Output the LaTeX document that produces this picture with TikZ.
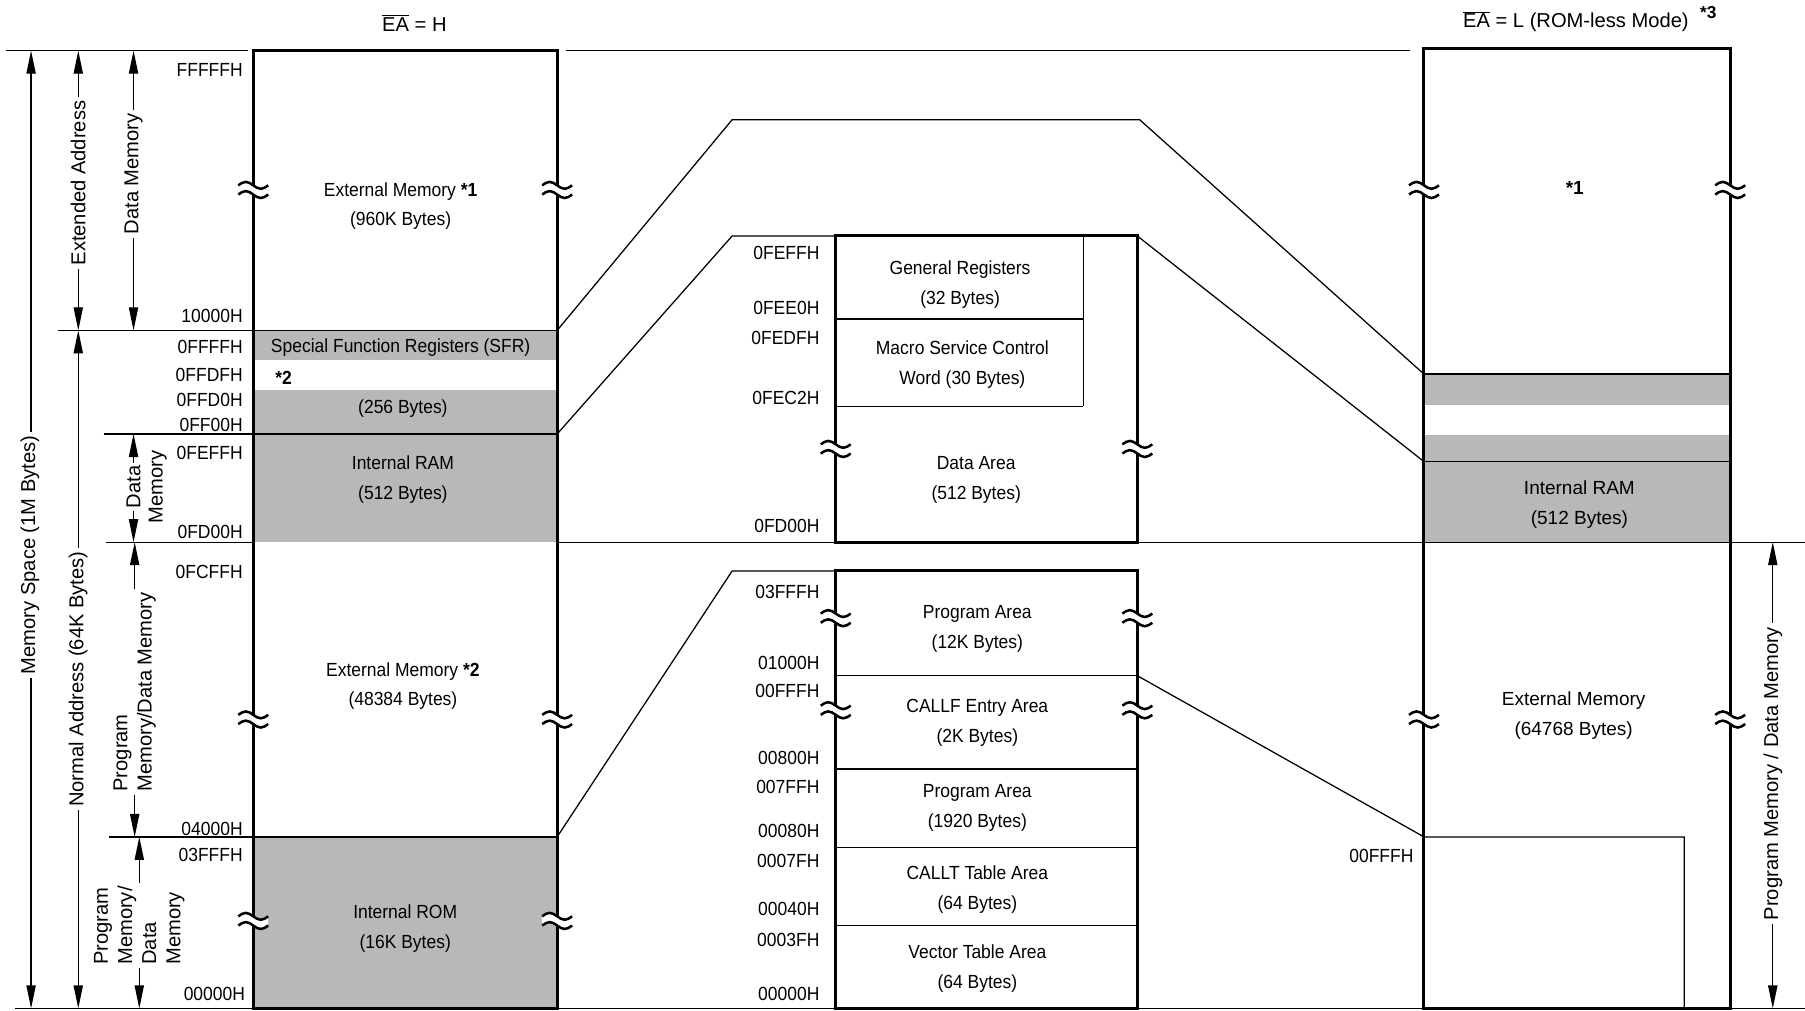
\documentclass[tikz,border=0pt]{standalone}
\usepackage{fontspec}
\setmainfont{Liberation Sans}
\newfontfamily\cfont{Liberation Sans}[FakeStretch=0.92]
\usetikzlibrary{arrows.meta}
\begin{document}
\begin{tikzpicture}[x=1pt,y=-1pt,
  thickline/.style={line width=2.6pt},
  thinline/.style={line width=1.1pt},
  shade/.style={fill=black!28},
  boxtxt/.style={font=\cfont\fontsize{16.5}{26}\selectfont, align=center, inner sep=0pt, yshift=-2pt},
  rtxt/.style={font=\fontsize{16.5}{26}\selectfont, align=center, inner sep=0pt, yshift=-2pt},
  addr/.style={font=\cfont\fontsize{16.5}{20}\selectfont, anchor=east, inner sep=0pt, yshift=-1.5pt},
  side/.style={font=\fontsize{17.5}{21}\selectfont, rotate=90, fill=white, inner sep=3pt, align=left},
  dimarrow/.style={line width=1.1pt, {Triangle[length=20pt,width=8pt]}-{Triangle[length=20pt,width=8pt]}},
  brk/.pic={
    \fill[white] (-13,-4) sin (-6.5,-7) cos (0,-4) sin (6.5,-1) cos (13,-4) -- (13,4) sin (6.5,7) cos (0,4) sin (-6.5,1) cos (-13,4) -- cycle;
    \draw[line width=2.2pt] (-13,-4) sin (-6.5,-7) cos (0,-4) sin (6.5,-1) cos (13,-4);
    \draw[line width=2.2pt] (-13,4) sin (-6.5,1) cos (0,4) sin (6.5,7) cos (13,4);
  }
]
\useasboundingbox (0,0) rectangle (1568,878);

% ---------- shading ----------
\fill[shade] (220,287) rectangle (484,313);
\fill[shade] (220,339) rectangle (484,471);
\fill[shade] (220,727) rectangle (484,876);
\fill[shade] (1237,325) rectangle (1503,352);
\fill[shade] (1237,378) rectangle (1503,471);

% ---------- coordinates ----------
\coordinate (L287) at (484,287);
\coordinate (L377) at (484,377);
\coordinate (L727) at (484,727);
\coordinate (T1) at (636,104);
\coordinate (T2) at (990,104);
\coordinate (R325) at (1237,325);
\coordinate (M1) at (636,205);
\coordinate (MTL) at (726,205);
\coordinate (MTR) at (988,205);
\coordinate (R401) at (1237,401);
\coordinate (B1) at (636,496);
\coordinate (MBTL) at (726,496);
\coordinate (MB587) at (988,587);
\coordinate (R727) at (1237,727);
\coordinate (RIN) at (1463,727);
\coordinate (RINB) at (1463,876);

% ---------- guide lines ----------
\draw[thinline] (5,44) -- (215,44);
\draw[thinline] (492,44) -- (1225,44);
\draw[thinline] (50,287) -- (484,287);
\draw[thinline] (90,377) -- (484,377);
\draw[thinline] (92,471) -- (220,471);
\draw[thinline] (484,471) -- (1568,471);
\draw[thinline] (95,727) -- (484,727);
\draw[thinline] (13,876) -- (1568,876);
\draw[thinline] (1237,325) -- (1503,325);
\draw[thinline] (1237,401) -- (1503,401);

% ---------- connectors ----------
\draw[thinline] (L287) -- (T1) -- (T2) -- (R325);
\draw[thinline] (L377) -- (M1) -- (MTL);
\draw[thinline] (MTR) -- (R401);
\draw[thinline] (L727) -- (B1) -- (MBTL);
\draw[thinline] (MB587) -- (R727) -- (RIN) -- (RINB);

% ---------- middle inner lines ----------
\draw[thinline] (726,277) -- (941,277);
\draw[thinline] (726,353) -- (941,353);
\draw[thinline] (941,205) -- (941,353);
\foreach \yy in {587,668,736,804} \draw[thinline] (726,\yy) -- (988,\yy);

% ---------- boxes ----------
\draw[thickline] (220,44) rectangle (484,876);
\draw[thickline] (726,205) rectangle (988,471);
\draw[thickline] (726,496) rectangle (988,876);
\draw[thickline] (1237,42) rectangle (1503,876);

% ---------- break marks ----------
\foreach \xx in {220,484} {
  \pic at (\xx,165) {brk};
  \pic at (\xx,625) {brk};
  \pic at (\xx,800) {brk};
}
\foreach \xx in {726,988} {
  \pic at (\xx,390) {brk};
  \pic at (\xx,537) {brk};
  \pic at (\xx,617) {brk};
}
\foreach \xx in {1237,1503} {
  \pic at (\xx,165) {brk};
  \pic at (\xx,625) {brk};
}

% ---------- titles ----------
\node[font=\fontsize{17.5}{21}\selectfont] (title1) at (360,20) {$\overline{\mbox{EA}}$ = H};
\node[font=\fontsize{17.5}{21}\selectfont] (title2) at (1369,19) {$\overline{\mbox{EA}}$ = L (ROM-less Mode)};
\node[font=\bfseries\fontsize{15}{18}\selectfont] (title3) at (1484,11) {*3};

% ---------- left box texts ----------
\node[boxtxt] (ext1) at (348,177) {External Memory \textbf{*1}\\(960K Bytes)};
\node[boxtxt] (sfr) at (348,300) {Special Function Registers (SFR)};
\node[boxtxt,anchor=west] (st2) at (239,326) {\textbf{*2}};
\node[boxtxt] (b256) at (350,353) {(256 Bytes)};
\node[boxtxt] (iram) at (350,415) {Internal RAM\\(512 Bytes)};
\node[boxtxt] (ext2) at (350,594) {External Memory \textbf{*2}\\(48384 Bytes)};
\node[boxtxt] (irom) at (352,805) {Internal ROM\\(16K Bytes)};

% ---------- left addresses ----------
\node[addr] (la1) at (211,59) {FFFFFH};
\node[addr] (la2) at (211,273) {10000H};
\node[addr] (la3) at (211,300) {0FFFFH};
\node[addr] (la4) at (211,324) {0FFDFH};
\node[addr] (la5) at (211,346) {0FFD0H};
\node[addr] (la6) at (211,368) {0FF00H};
\node[addr] (la7) at (211,392) {0FEFFH};
\node[addr] (la8) at (211,461) {0FD00H};
\node[addr] (la9) at (211,495) {0FCFFH};
\node[addr] (la10) at (211,719) {04000H};
\node[addr] (la11) at (211,741) {03FFFH};
\node[addr] (la12) at (213,862) {00000H};

% ---------- middle addresses ----------
\node[addr] (ma1) at (712,218) {0FEFFH};
\node[addr] (ma2) at (712,266) {0FEE0H};
\node[addr] (ma3) at (712,292) {0FEDFH};
\node[addr] (ma4) at (712,344) {0FEC2H};
\node[addr] (ma5) at (712,455) {0FD00H};
\node[addr] (ma6) at (712,513) {03FFFH};
\node[addr] (ma7) at (712,574) {01000H};
\node[addr] (ma8) at (712,599) {00FFFH};
\node[addr] (ma9) at (712,657) {00800H};
\node[addr] (ma10) at (712,682) {007FFH};
\node[addr] (ma11) at (712,720) {00080H};
\node[addr] (ma12) at (712,746) {0007FH};
\node[addr] (ma13) at (712,788) {00040H};
\node[addr] (ma14) at (712,815) {0003FH};
\node[addr] (ma15) at (712,862) {00000H};

% ---------- middle texts ----------
\node[boxtxt] (gr) at (834,245) {General Registers\\(32 Bytes)};
\node[boxtxt] (msc) at (836,315) {Macro Service Control\\Word (30 Bytes)};
\node[boxtxt] (da) at (848,415) {Data Area\\(512 Bytes)};
\node[boxtxt] (pa1) at (849,544) {Program Area\\(12K Bytes)};
\node[boxtxt] (cf) at (849,626) {CALLF Entry Area\\(2K Bytes)};
\node[boxtxt] (pa2) at (849,700) {Program Area\\(1920 Bytes)};
\node[boxtxt] (ct) at (849,771) {CALLT Table Area\\(64 Bytes)};
\node[boxtxt] (vt) at (849,839) {Vector Table Area\\(64 Bytes)};

% ---------- right box texts ----------
\node[rtxt,font=\bfseries\fontsize{16.5}{20}\selectfont] (rs1) at (1368,161) {*1};
\node[rtxt] (riram) at (1372,436) {Internal RAM\\(512 Bytes)};
\node[rtxt] (rext) at (1367,620) {External Memory\\(64768 Bytes)};
\node[addr] (ra1) at (1228,742) {00FFFH};

% ---------- dimension arrows ----------
\coordinate (d1a) at (27,44);   \coordinate (d1b) at (27,876);
\coordinate (d2a) at (68,44);   \coordinate (d2b) at (68,287);
\coordinate (d3a) at (68,287);  \coordinate (d3b) at (68,876);
\coordinate (d4a) at (116,44);  \coordinate (d4b) at (116,287);
\coordinate (d5a) at (116,377); \coordinate (d5b) at (116,471);
\coordinate (d6a) at (117,471); \coordinate (d6b) at (117,727);
\coordinate (d7a) at (121,727); \coordinate (d7b) at (121,876);
\coordinate (d8a) at (1540,471); \coordinate (d8b) at (1540,876);

\draw[dimarrow] (d1a) -- (d1b);
\draw[dimarrow] (d2a) -- (d2b);
\draw[dimarrow] (d3a) -- (d3b);
\draw[dimarrow] (d4a) -- (d4b);
\draw[dimarrow] (d5a) -- (d5b);
\draw[dimarrow] (d6a) -- (d6b);
\draw[dimarrow] (d7a) -- (d7b);
\draw[dimarrow] (d8a) -- (d8b);

\node[side] (s1) at (26,482) {Memory Space (1M Bytes)};
\node[side] (s2) at (68,159) {Extended Address};
\node[side] (s3) at (68,590) {Normal Address (64K Bytes)};
\node[side] (s4) at (116,151) {Data Memory};
\node[side,inner sep=2pt] (s5) at (116,423) {Data};
\node[side,fill=none,inner sep=0pt] (s5b) at (137,423) {Memory};
\node[side] (s6) at (117,601) {Program\\Memory/Data Memory};
\node[side] (s7) at (121,804) {Program\\Memory/\\Data\\Memory};
\node[side] (s8) at (1540,672) {Program Memory / Data Memory};

\end{tikzpicture}
\end{document}
